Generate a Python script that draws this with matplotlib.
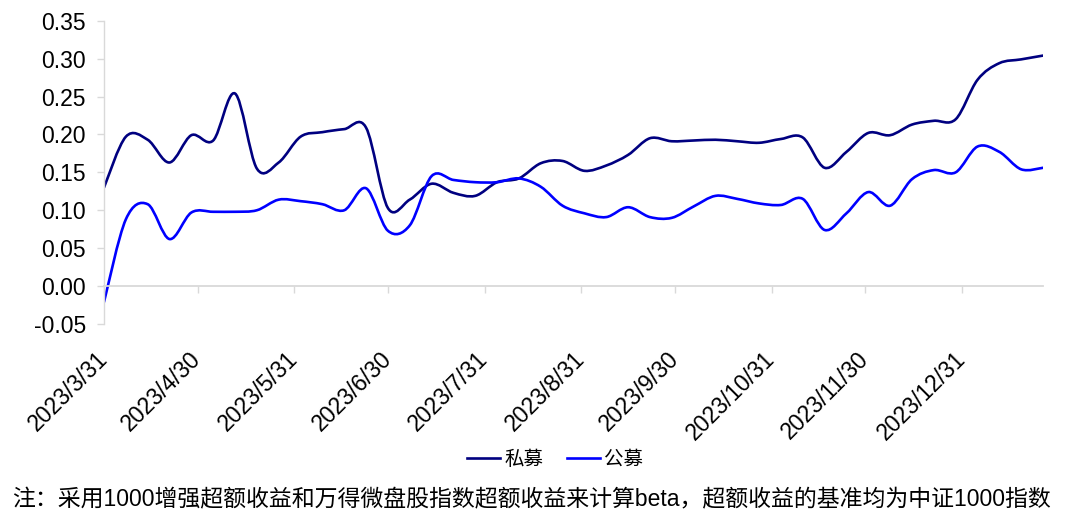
import matplotlib
matplotlib.use("Agg")
import matplotlib.pyplot as plt
import matplotlib.dates as mdates
from matplotlib.lines import Line2D
from matplotlib.path import Path
from matplotlib.patches import PathPatch
import numpy as np
import pandas as pd

# weekly observations, 2023/3/31 .. 2024/1/26
dates = pd.date_range("2023-03-31", periods=44, freq="7D")

private_beta = [
    0.130, 0.197, 0.193, 0.163, 0.199, 0.192, 0.254, 0.155, 0.163, 0.197,
    0.203, 0.207, 0.209, 0.103, 0.114, 0.135, 0.123, 0.119, 0.137, 0.142,
    0.162, 0.165, 0.152, 0.159, 0.173, 0.195, 0.191, 0.192, 0.193, 0.191,
    0.189, 0.194, 0.196, 0.156, 0.177, 0.202, 0.199, 0.213, 0.218, 0.220,
    0.272, 0.294, 0.299, 0.304,
]
public_beta = [
    -0.021, 0.088, 0.108, 0.062, 0.097, 0.098, 0.098, 0.100, 0.114, 0.112,
    0.108, 0.100, 0.129, 0.073, 0.080, 0.145, 0.140, 0.137, 0.137, 0.142,
    0.131, 0.106, 0.096, 0.091, 0.104, 0.091, 0.090, 0.105, 0.119, 0.115,
    0.109, 0.107, 0.115, 0.074, 0.096, 0.124, 0.106, 0.141, 0.153, 0.150,
    0.184, 0.177, 0.154, 0.156,
]

series_names = ["私募", "公募"]
series_colors = ["#000080", "#0000ff"]

tick_dates = ["2023-03-31", "2023-04-30", "2023-05-31", "2023-06-30",
              "2023-07-31", "2023-08-31", "2023-09-30", "2023-10-31",
              "2023-11-30", "2023-12-31"]
y_ticks = [-0.05, 0.00, 0.05, 0.10, 0.15, 0.20, 0.25, 0.30, 0.35]

note = "注：采用1000增强超额收益和万得微盘股指数超额收益来计算beta，超额收益的基准均为中证1000指数"

FONT = ["Liberation Sans", "Noto Sans CJK SC", "DejaVu Sans"]
plt.rcParams["font.family"] = FONT
AXIS_GREY = "#d9d9d9"


def smooth_path(x, y):
    """Excel-style smoothed line: cubic Bezier segments through every point."""
    pts = np.column_stack([x, y])
    verts = [pts[0]]
    codes = [Path.MOVETO]
    n = len(pts)
    for i in range(n - 1):
        p0 = pts[max(i - 1, 0)]
        p1 = pts[i]
        p2 = pts[i + 1]
        p3 = pts[min(i + 2, n - 1)]
        c1 = p1 + (p2 - p0) / 6.0
        c2 = p2 - (p3 - p1) / 6.0
        verts += [c1, c2, p2]
        codes += [Path.CURVE4] * 3
    return Path(verts, codes)


fig = plt.figure(figsize=(10.8, 5.23), dpi=100)
ax = fig.add_axes([104 / 1080, 1 - 324 / 523, (1043 - 104) / 1080, (324 - 20.7) / 523])

# spine placement first: moving a spine resets the tick objects
for side in ("top", "right"):
    ax.spines[side].set_visible(False)
ax.spines["left"].set_color(AXIS_GREY)
ax.spines["bottom"].set_color(AXIS_GREY)
ax.spines["bottom"].set_position(("data", 0))
ax.spines["left"].set_linewidth(1.0)
ax.spines["bottom"].set_linewidth(1.3)

xnum = mdates.date2num(dates)
handles = []
for values, name, color in zip([private_beta, public_beta], series_names, series_colors):
    patch = PathPatch(smooth_path(xnum, np.array(values)), facecolor="none",
                      edgecolor=color, lw=1.9, capstyle="round", joinstyle="round")
    ax.add_patch(patch)
    handles.append(Line2D([], [], color=color, lw=1.9, label=name))

ax.set_xlim(xnum[0], xnum[-1])
ax.set_ylim(-0.05, 0.35)
ax.set_yticks(y_ticks)
ax.set_yticklabels([f"{v:.2f}" for v in y_ticks])

tick_pos = mdates.date2num(pd.to_datetime(tick_dates))
tick_labels = [f"{d.year}/{d.month}/{d.day}" for d in pd.to_datetime(tick_dates)]
ax.set_xticks(tick_pos)
ax.set_xticklabels(tick_labels, rotation=45, ha="right", va="center",
                   rotation_mode="anchor")

ax.tick_params(axis="y", direction="out", length=5, width=1, color=AXIS_GREY,
               labelsize=16.5, pad=8)
ax.tick_params(axis="x", direction="out", length=5, width=1, color=AXIS_GREY,
               labelsize=16.5, pad=45)

fig.legend(handles=handles, loc="center", bbox_to_anchor=(555 / 1080, 1 - 460 / 523),
           ncol=2, frameon=False, fontsize=14, handlelength=1.7,
           handletextpad=0.2, columnspacing=1.2)

fig.text(12 / 1080, 1 - 500 / 523, note, fontsize=16.5, ha="left", va="center")

fig.savefig("out.png", dpi=100)
